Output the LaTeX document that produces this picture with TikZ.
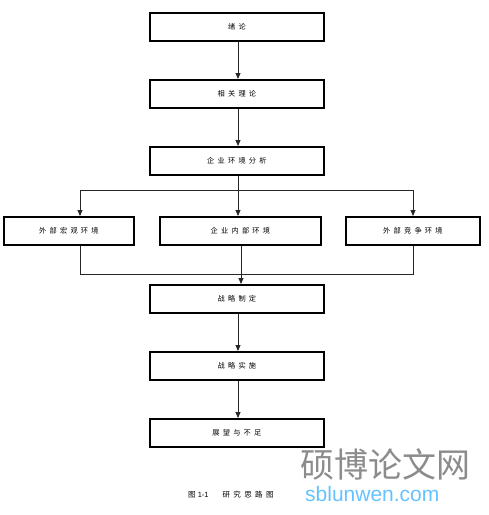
\documentclass[tikz,border=0pt]{standalone}
\usepackage{fontspec}
\setmainfont{Liberation Sans}
\newfontfamily\cjk[LetterSpace=45]{Noto Sans CJK SC}
\newfontfamily\cjkplain{Noto Sans CJK SC}
\usetikzlibrary{arrows.meta}
\tikzset{
  box/.style={draw, line width=1.8pt, minimum height=28pt, inner sep=0pt, font=\cjk\fontsize{7.2}{8}\selectfont, anchor=north west},
  conn/.style={line width=0.9pt, draw=black!85},
  arr/.style={conn, -{Triangle[length=6pt,width=5pt]}}
}
\begin{document}
\begin{tikzpicture}[x=1pt,y=-1pt]
\useasboundingbox (0,0) rectangle (489,515);
\node[box, minimum width=174pt] (b1) at (149,12) {绪论};
\node[box, minimum width=174pt] (b2) at (149,79) {相关理论};
\node[box, minimum width=174pt] (b3) at (149,146) {企业环境分析};
\node[box, minimum width=130pt] (l) at (3,216) {外部宏观环境};
\node[box, minimum width=161pt] (m) at (159,216) {企业内部环境};
\node[box, minimum width=134pt] (r) at (345,216) {外部竞争环境};
\node[box, minimum width=174pt] (b4) at (149,284) {战略制定};
\node[box, minimum width=174pt] (b5) at (149,351) {战略实施};
\node[box, minimum width=174pt] (b6) at (149,418) {展望与不足};
\coordinate (split) at (238,190);
\coordinate (join) at (241,274);
\draw[arr] (b1.south -| split) -- (b2.north -| split);
\draw[arr] (b2.south -| split) -- (b3.north -| split);
\draw[conn] (b3.south -| split) -- (split);
\draw[conn] (80,190) -- (413,190);
\draw[arr] (80,190) -- (l.north -| 80,0);
\draw[arr] (split) -- (m.north -| split);
\draw[arr] (413,190) -- (r.north -| 413,0);
\draw[conn] (l.south -| 80,0) |- (join);
\draw[conn] (r.south -| 413,0) |- (join);
\draw[arr] (m.south -| join) -- (b4.north -| join);
\draw[arr] (b4.south -| split) -- (b5.north -| split);
\draw[arr] (b5.south -| split) -- (b6.north -| split);
\node[anchor=west, inner sep=0pt, font=\fontsize{7.5}{8}\selectfont] (cap) at (188,495) {{\cjkplain 图} 1-1\hspace{14pt}{\cjk 研究思路图}};
\node[anchor=west, inner sep=0pt, text=black!45, font=\cjkplain\fontsize{34}{36}\selectfont] (wm1) at (300,464) {硕博论文网};
\node[anchor=west, inner sep=0pt, text=blue!40!cyan!60!white, font=\fontsize{21}{22}\selectfont] (wm2) at (305,494) {sblunwen.com};
\end{tikzpicture}
\end{document}
